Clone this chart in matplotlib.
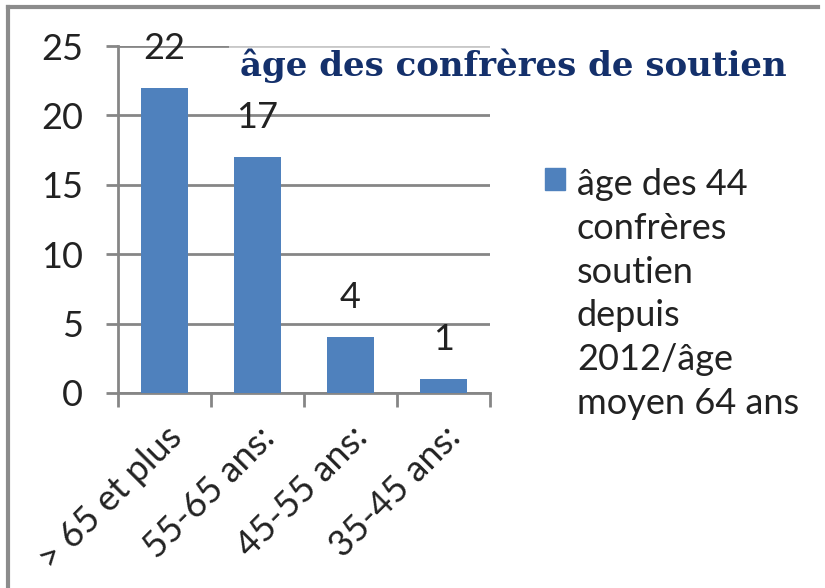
import matplotlib
matplotlib.use("Agg")
import matplotlib.pyplot as plt
from matplotlib.patches import Rectangle
from matplotlib.lines import Line2D

categories = ["> 65 et plus", "55-65 ans:", "45-55 ans:", "35-45 ans:"]
values = [22, 17, 4, 1]
yticks = [0, 5, 10, 15, 20, 25]
title = "âge des confrères de soutien"
legend_label = "âge des 44\nconfrères\nsoutien\ndepuis\n2012/âge\nmoyen 64 ans"

BAR = "#4F81BD"
GRID = "#868686"
FONT = "Lato"
FS = 26

fig = plt.figure(figsize=(8.25, 5.88), dpi=100)
ax = fig.add_axes([118/825, 1-393/588, 372/825, 347/588])

x = list(range(len(categories)))
ax.bar(x, values, width=0.5, color=BAR, zorder=3)
ax.set_xlim(-0.5, len(categories)-0.5)
ax.set_ylim(0, 25)
ax.set_yticks(yticks)
ax.yaxis.grid(True, color=GRID, linewidth=2, zorder=1)
for s in ["top", "right"]:
    ax.spines[s].set_visible(False)
for s in ["left", "bottom"]:
    ax.spines[s].set_color(GRID)
    ax.spines[s].set_linewidth(2)
ax.tick_params(axis="y", length=9, width=2, color=GRID, labelsize=FS, pad=16)
ax.set_yticklabels([str(t) for t in yticks], fontfamily=FONT, color="#222222")
ax.set_xticks([i - 0.5 for i in range(len(categories)+1)], minor=False)
ax.set_xticklabels([""] * (len(categories)+1))
ax.tick_params(axis="x", which="major", length=10, width=2, color=GRID)
ax.set_xticks(x, minor=True)
ax.set_xticklabels(categories, minor=True, rotation=45, ha="right", va="top",
                   rotation_mode="anchor", fontfamily=FONT, fontsize=FS, color="#222222")
ax.tick_params(axis="x", which="minor", length=0, pad=20)

for xi, v in zip(x, values):
    ax.annotate(str(v), (xi, v), xytext=(0, 28.5), textcoords="offset points",
                ha="center", va="center", fontsize=FS, fontfamily=FONT, color="#222222", zorder=4)

fig.text(240/825, 1-66/588, title, ha="left", va="center", fontsize=24.5,
         fontweight="bold", fontfamily="DejaVu Serif", color="#14306B",
         bbox=dict(facecolor="white", alpha=0.55, edgecolor="none", pad=8))

fig.patches.append(Rectangle((545/825, 1-190/588), 20/825, 22/588,
                             transform=fig.transFigure, color=BAR, figure=fig))
fig.text(577/825, 1-168/588, legend_label, ha="left", va="top", fontsize=FS,
         fontfamily=FONT, color="#222222", linespacing=1.4)

fig.add_artist(Line2D([8/825, 8/825], [0, 1-7/588], transform=fig.transFigure, color="#8C8C8C", linewidth=3))
fig.add_artist(Line2D([8/825, 818/825], [1-7/588, 1-7/588], transform=fig.transFigure, color="#8C8C8C", linewidth=3))

fig.savefig("out.png", dpi=100)
